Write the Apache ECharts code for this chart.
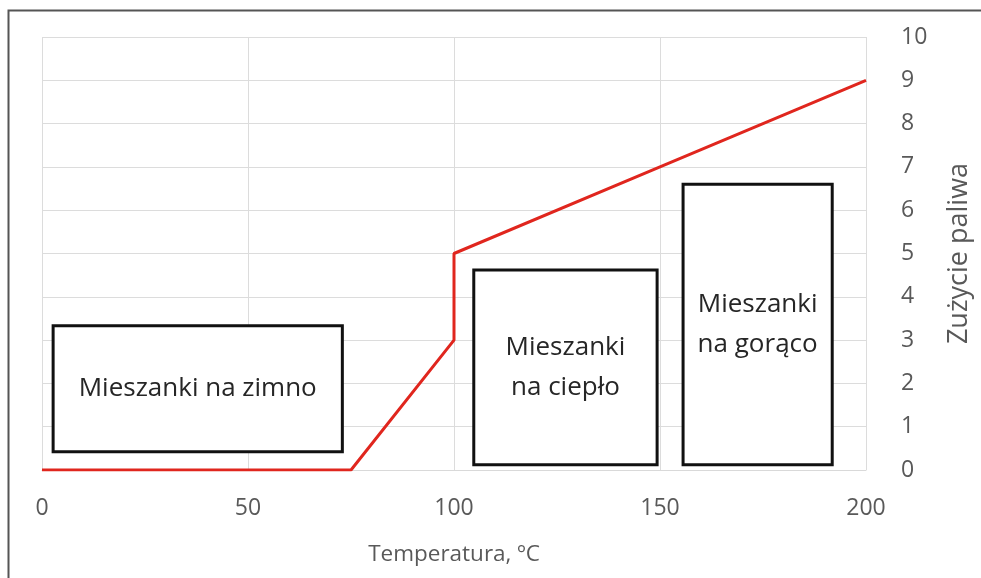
<!DOCTYPE html>
<html>
<head>
<meta charset="utf-8">
<script src="https://cdn.jsdelivr.net/npm/echarts@6/dist/echarts.min.js"></script>
<style>html,body{margin:0;padding:0;background:#fff;}#c{width:981px;height:578px;}</style>
</head>
<body>
<div id="c"></div>
<script>
// Data
const tempX = [0, 75, 100, 100, 150, 200];
const fuelY = [0, 0, 3, 5, 7, 9];
const boxLabels = ['Mieszanki na zimno', 'Mieszanki\nna ciepło', 'Mieszanki\nna gorąco'];
const boxX0 = [2.7, 104.8, 155.6];
const boxX1 = [72.9, 149.3, 191.8];
const boxY0 = [0.42, 0.12, 0.12];
const boxY1 = [3.33, 4.62, 6.6];
const xTicks = [0, 50, 100, 150, 200];
const yTicks = [0,1,2,3,4,5,6,7,8,9,10];

const font = '"Open Sans", "Liberation Sans", sans-serif';
const chart = echarts.init(document.getElementById('c'));
const areas = boxLabels.map((n, i) => [
  { name: n, coord: [boxX0[i], boxY0[i]] },
  { coord: [boxX1[i], boxY1[i]] }
]);
chart.setOption({
  animation: false,
  backgroundColor: '#fff',
  graphic: [{
    type: 'rect', left: 6, top: 8, shape: { width: 1000, height: 600 },
    style: { fill: 'none', stroke: '#555', lineWidth: 2 }, silent: true
  }],
  grid: { left: 42, right: 111, top: 37, bottom: 108, containLabel: false },
  xAxis: {
    type: 'value', min: xTicks[0], max: xTicks[xTicks.length - 1], interval: 50,
    name: 'Temperatura, ºC', nameLocation: 'middle', nameGap: 73,
    nameTextStyle: { color: '#595959', fontSize: 22.5, fontFamily: font },
    axisLine: { show: true, lineStyle: { color: '#d9d9d9', width: 1 } },
    axisTick: { show: false },
    axisLabel: { color: '#595959', fontSize: 23, fontFamily: font, margin: 27 },
    splitLine: { show: true, lineStyle: { color: '#dcdcdc', width: 1 } }
  },
  yAxis: {
    type: 'value', position: 'right', min: yTicks[0], max: yTicks[yTicks.length - 1], interval: 1,
    name: 'Zużycie paliwa', nameLocation: 'middle', nameGap: 80, nameRotate: 90,
    nameTextStyle: { color: '#595959', fontSize: 27, fontFamily: font },
    axisLine: { show: false }, axisTick: { show: false },
    axisLabel: { color: '#595959', fontSize: 23, fontFamily: font, margin: 35, align: 'left' },
    splitLine: { show: true, lineStyle: { color: '#dcdcdc', width: 1 } }
  },
  series: [{
    type: 'line',
    data: tempX.map((x, i) => [x, fuelY[i]]),
    showSymbol: false, symbol: 'none',
    lineStyle: { color: '#e0261e', width: 3 },
    z: 3,
    markArea: {
      silent: true,
      itemStyle: { color: '#fff', borderColor: '#111', borderWidth: 3 },
      label: {
        show: true, position: 'inside', color: '#262626', fontSize: 26,
        fontFamily: font, lineHeight: 40, align: 'center', verticalAlign: 'middle'
      },
      data: areas
    }
  }]
});
</script>
</body>
</html>
